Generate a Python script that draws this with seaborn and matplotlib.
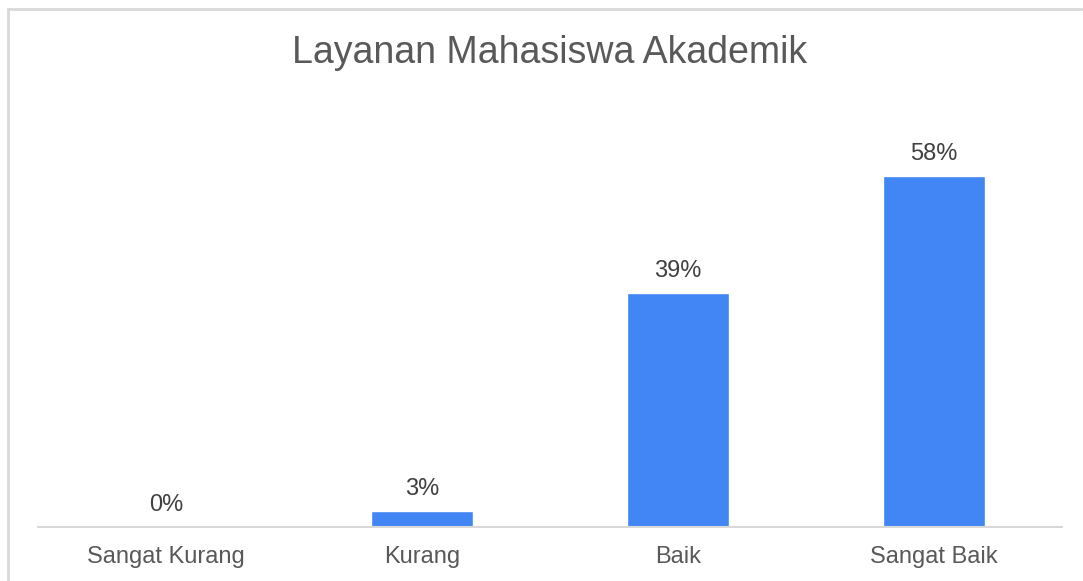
import matplotlib.pyplot as plt
import seaborn as sns
from matplotlib.lines import Line2D

categories = ['Sangat Kurang', 'Kurang', 'Baik', 'Sangat Baik']
percentages = [0, 2.6, 38.6, 58.0]

sns.set_style('white')
plt.rcParams['font.family'] = ['Liberation Sans', 'DejaVu Sans']

W, H = 1083, 581
fig = plt.figure(figsize=(W / 100, H / 100), dpi=100)
ax = fig.add_axes([38 / W, (H - 527) / H, 1024 / W, (527 - 103) / H])

sns.barplot(x=categories, y=percentages, color='#4285F4', width=0.4,
            saturation=1, ax=ax)
ax.bar_label(ax.containers[0], fmt='%.0f%%', padding=8, fontsize=17,
             color='#404040')

ax.set_xlim(-0.5, 3.5)
ax.set_ylim(0, 70)
ax.set_yticks([])
ax.tick_params(axis='x', length=0, pad=14, labelsize=17, labelcolor='#595959')
for side in ['top', 'right', 'left']:
    ax.spines[side].set_visible(False)
ax.spines['bottom'].set_color('#d9d9d9')
ax.spines['bottom'].set_linewidth(1.5)

fig.text(549 / W, 1 - 53 / H, 'Layanan Mahasiswa Akademik', ha='center',
         va='center', fontsize=27, color='#595959')

# chart frame (top and left edges)
fig.add_artist(Line2D([8 / W, 1082 / W], [1 - 9 / H, 1 - 9 / H],
                      color='#d9d9d9', lw=2, transform=fig.transFigure))
fig.add_artist(Line2D([8 / W, 8 / W], [1 - 9 / H, 0],
                      color='#d9d9d9', lw=2, transform=fig.transFigure))

fig.savefig('out.png', dpi=100)
